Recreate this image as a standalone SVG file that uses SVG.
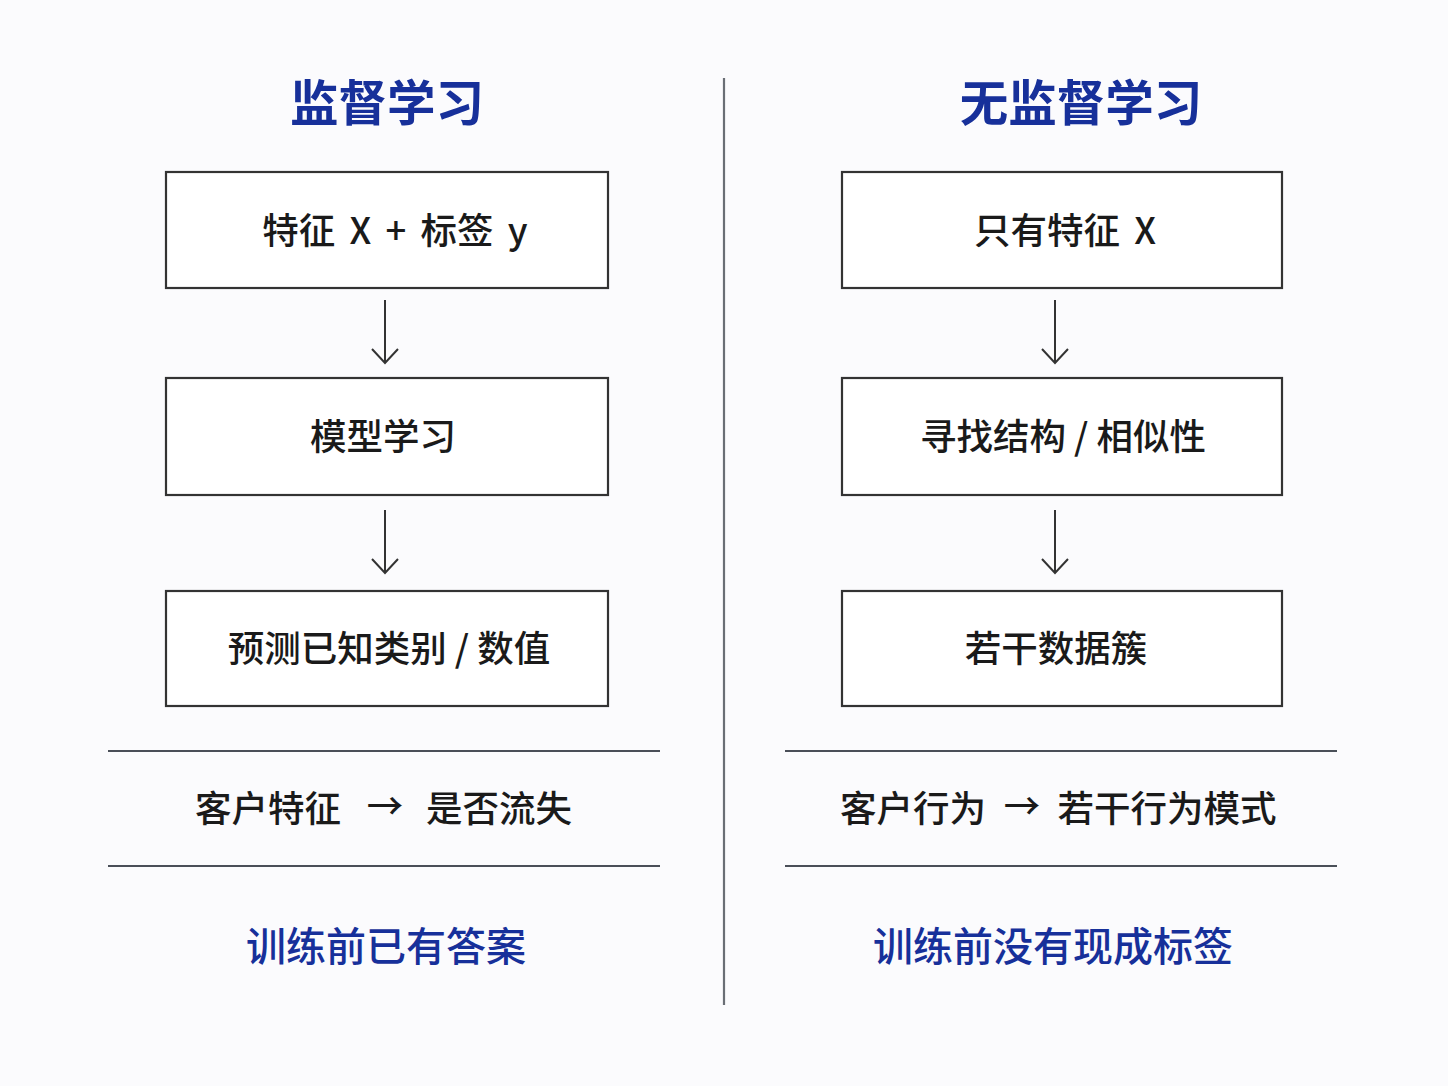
<svg xmlns="http://www.w3.org/2000/svg" width="1448" height="1086" viewBox="0 0 1448 1086">
<style>
.title{font-family:"Noto Sans CJK SC","Noto Sans",sans-serif;font-weight:700;font-size:48.5px;fill:#17309a;text-anchor:middle}
.box{fill:#ffffff;stroke:#333;stroke-width:2.2}
.bt{font-family:"Noto Sans CJK SC","Noto Sans",sans-serif;font-weight:500;font-size:36.5px;fill:#1a1a1a;text-anchor:middle}
.ex{font-family:"Noto Sans CJK SC","Noto Sans",sans-serif;font-weight:500;font-size:36.5px;fill:#1a1a1a;text-anchor:middle}
.foot{font-family:"Noto Sans CJK SC","Noto Sans",sans-serif;font-weight:500;font-size:40px;fill:#17309a;text-anchor:middle}
.rule{stroke:#4a4f58;stroke-width:2.2}
.arr{stroke:#333;stroke-width:2;fill:none}
</style>
<rect width="1448" height="1086" fill="#fbfbfd"/>
<line x1="724" y1="78" x2="724" y2="1005" stroke="#6a6e75" stroke-width="2.2"/>
<g id="title-left"><text class="title" x="387" y="121">监督学习</text></g>
<g id="title-right"><text class="title" x="1081" y="121">无监督学习</text></g>
<g id="l1"><rect class="box" x="166" y="172" width="442" height="116"/><text class="bt" x="395" y="244" word-spacing="6">特征 X + 标签 y</text></g>
<g id="l2"><rect class="box" x="166" y="378" width="442" height="117"/><text class="bt" x="383" y="450">模型学习</text></g>
<g id="l3"><rect class="box" x="166" y="591" width="442" height="115"/><text class="bt" x="389" y="662">预测已知类别 / 数值</text></g>
<g id="r1"><rect class="box" x="842" y="172" width="440" height="116"/><text class="bt" x="1065" y="244" word-spacing="6">只有特征 X</text></g>
<g id="r2"><rect class="box" x="842" y="378" width="440" height="117"/><text class="bt" x="1063" y="450">寻找结构 / 相似性</text></g>
<g id="r3"><rect class="box" x="842" y="591" width="440" height="115"/><text class="bt" x="1056" y="662">若干数据簇</text></g>
<g id="connectors">
<path class="arr" d="M385 300 V363 M372 349 L385 363 L398 349"/>
<path class="arr" d="M385 510 V573 M372 559 L385 573 L398 559"/>
<path class="arr" d="M1055 300 V363 M1042 349 L1055 363 L1068 349"/>
<path class="arr" d="M1055 510 V573 M1042 559 L1055 573 L1068 559"/>
</g>
<g id="example-left">
<line class="rule" x1="108" y1="751" x2="660" y2="751"/>
<line class="rule" x1="108" y1="866" x2="660" y2="866"/>
<text class="ex" x="268" y="822">客户特征</text>
<text class="ex" x="385" y="820">→</text>
<text class="ex" x="499" y="822">是否流失</text>
</g>
<g id="example-right">
<line class="rule" x1="785" y1="751" x2="1337" y2="751"/>
<line class="rule" x1="785" y1="866" x2="1337" y2="866"/>
<text class="ex" x="913" y="822">客户行为</text>
<text class="ex" x="1022" y="820">→</text>
<text class="ex" x="1167" y="822">若干行为模式</text>
</g>
<g id="foot-left"><text class="foot" x="386" y="961">训练前已有答案</text></g>
<g id="foot-right"><text class="foot" x="1053" y="961">训练前没有现成标签</text></g>
</svg>
